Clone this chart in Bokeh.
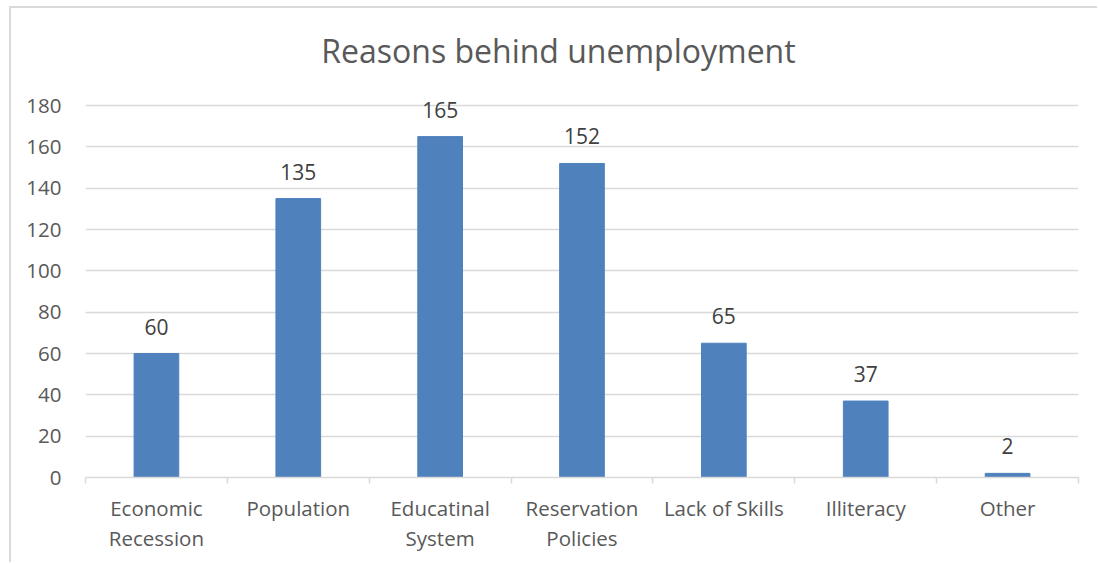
from bokeh.plotting import figure
from bokeh.models import ColumnDataSource, FixedTicker, Range1d, Label
from bokeh.embed import file_html
from bokeh.resources import INLINE
from bokeh.core.properties import value

title_text = "Reasons behind unemployment"
categories = ["Economic Recession", "Population", "Educatinal System", "Reservation Policies",
              "Lack of Skills", "Illiteracy", "Other"]
category_labels = ["Economic\nRecession", "Population", "Educatinal\nSystem", "Reservation\nPolicies",
                   "Lack of Skills", "Illiteracy", "Other"]
counts = [60, 135, 165, 152, 65, 37, 2]
y_ticks = [0, 20, 40, 60, 80, 100, 120, 140, 160, 180]

xpos = [i + 0.5 for i in range(len(categories))]
src = ColumnDataSource(dict(x=xpos, top=counts, label=[str(c) for c in counts], cat=categories))

FONT = "Open Sans"
# frame spans the full height above the axis; grid/ticks stop at 180
Y_END = 227
p = figure(width=1088, height=556, output_backend="svg", toolbar_location=None,
           x_range=Range1d(0, len(categories)), y_range=Range1d(0, Y_END),
           min_border_left=74, min_border_right=21, min_border_top=0, min_border_bottom=87)
p.styles = {"margin-left": "9px", "margin-top": "6px",
            "border-left": "2px solid #D9D9D9", "border-top": "2px solid #D9D9D9"}

title = Label(x=3.334, y=206.7, text=title_text,
              text_font=FONT, text_font_size="32px", text_color="#595959",
              text_align="center", text_baseline="middle")
p.add_layout(title)

p.vbar(x="x", top="top", width=0.315, bottom=0, source=src, color="#4F81BD")
p.text(x="x", y="top", text="label", source=src, text_font=value(FONT), text_font_size="21px",
       text_color="#404040", text_align="center", text_baseline="bottom", y_offset=-19)

p.outline_line_color = None
p.xgrid.grid_line_color = None
p.ygrid.grid_line_color = "#D9D9D9"
p.ygrid.grid_line_width = 1.5
p.ygrid.ticker = FixedTicker(ticks=y_ticks)

p.yaxis.ticker = FixedTicker(ticks=y_ticks)
p.yaxis.axis_line_color = None
p.yaxis.major_tick_line_color = None
p.yaxis.minor_tick_line_color = None
p.yaxis.major_label_standoff = 18
p.yaxis.major_label_text_font = FONT
p.yaxis.major_label_text_font_size = "20.5px"
p.yaxis.major_label_text_color = "#595959"

p.xaxis.ticker = FixedTicker(ticks=xpos, minor_ticks=list(range(len(categories) + 1)))
p.xaxis.major_label_overrides = {x: l for x, l in zip(xpos, category_labels)}
p.xaxis.axis_line_color = "#D9D9D9"
p.xaxis.axis_line_width = 1.5
p.xaxis.major_tick_line_color = None
p.xaxis.minor_tick_line_color = "#D9D9D9"
p.xaxis.minor_tick_line_width = 1.5
p.xaxis.minor_tick_in = 0
p.xaxis.minor_tick_out = 6
p.xaxis.major_tick_out = 6
p.xaxis.major_label_standoff = 10
p.xaxis.major_label_text_font = FONT
p.xaxis.major_label_text_font_size = "20.5px"
p.xaxis.major_label_text_color = "#595959"
p.xaxis.major_label_text_line_height = 1.08

open("out.html", "w").write(file_html(p, INLINE))
